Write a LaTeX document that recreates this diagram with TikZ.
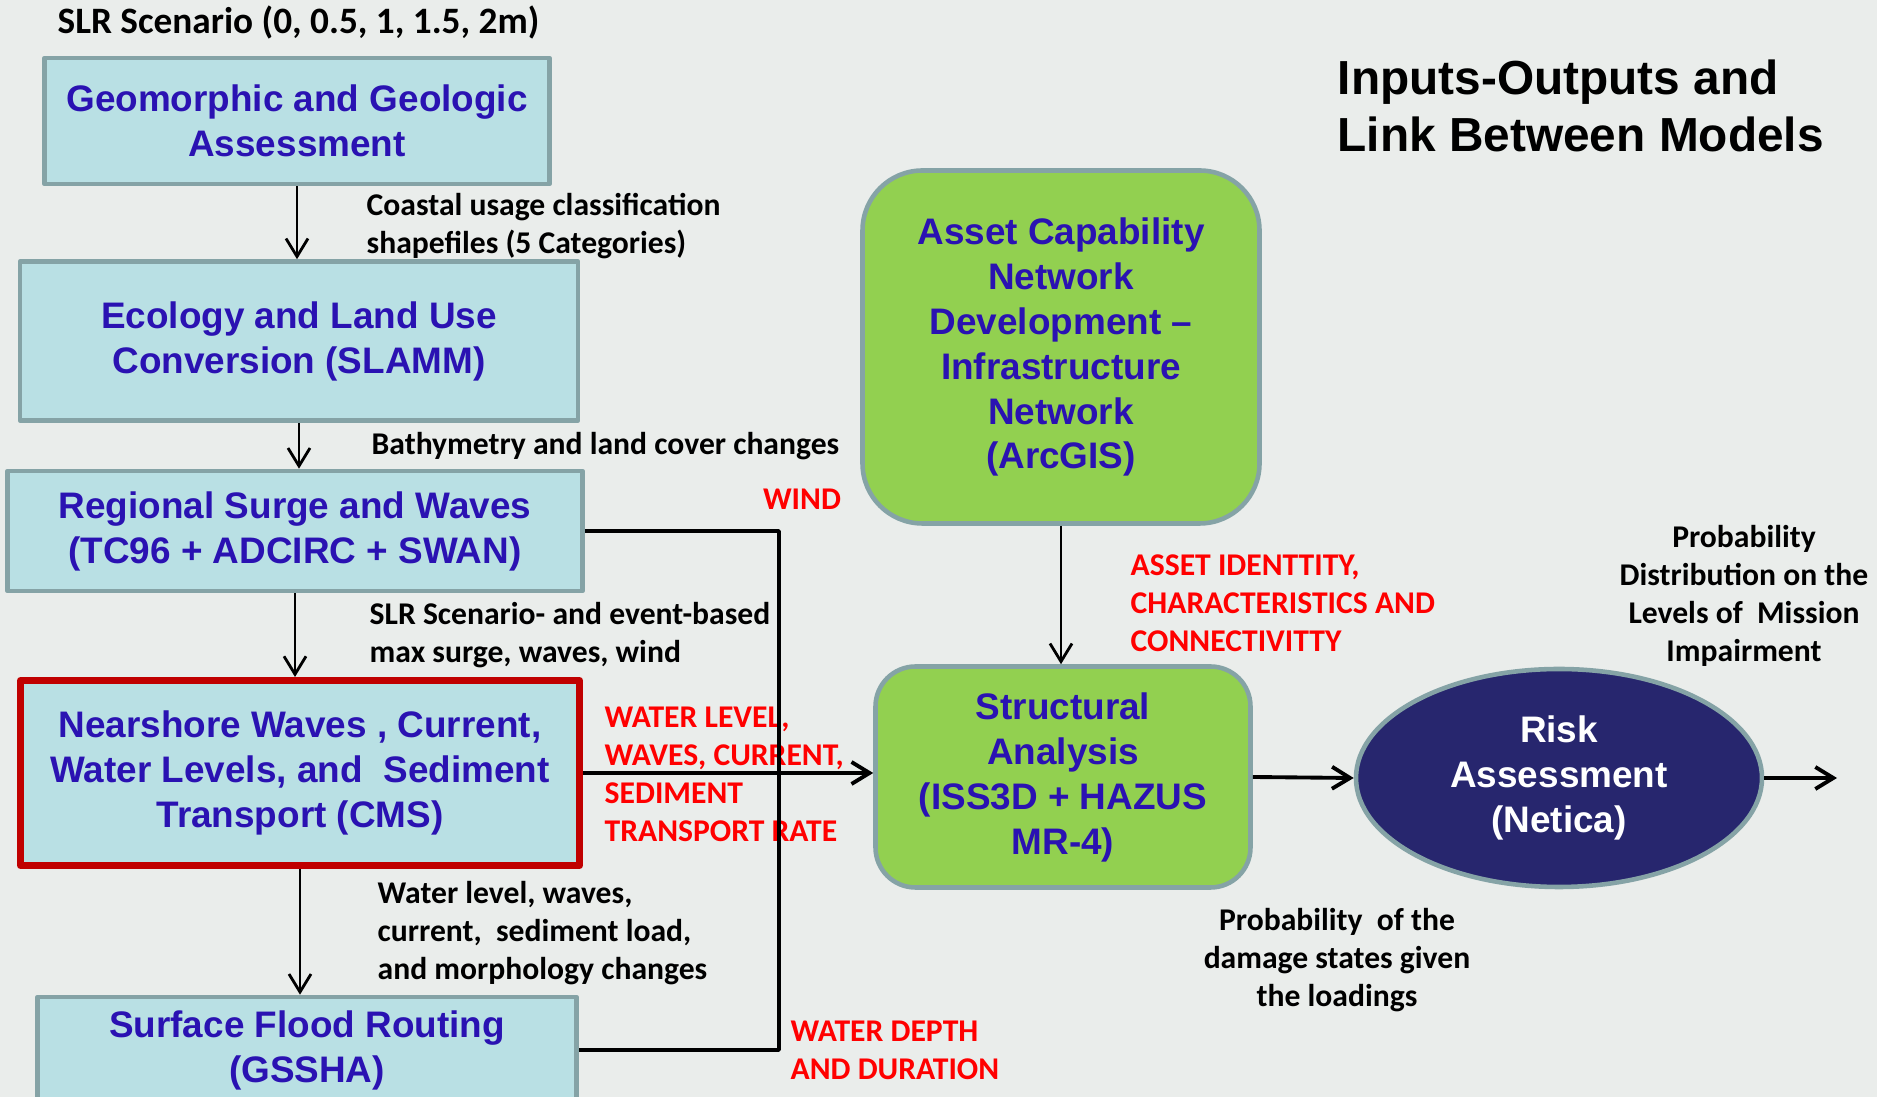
\documentclass[tikz,border=0pt]{standalone}
\usepackage{fontspec}
\setmainfont{Liberation Sans}
\newfontfamily\lblfont{Carlito}
\usetikzlibrary{arrows.meta,shapes.geometric}
\definecolor{bgpanel}{RGB}{234,237,235}
\definecolor{modelfill}{RGB}{185,224,228}
\definecolor{modeledge}{RGB}{133,163,166}
\definecolor{modelink}{RGB}{42,18,178}
\definecolor{assetgreen}{RGB}{146,208,80}
\definecolor{risknavy}{RGB}{39,38,110}
\definecolor{flowred}{RGB}{255,0,0}
\definecolor{focusred}{RGB}{192,0,0}
\begin{document}
\begin{tikzpicture}[x=0.1mm, y=-0.1mm, line join=round, >={Straight Barb[length=1.8mm,width=2.2mm]},
  model/.style={draw=modeledge, line width=1.3pt, fill=modelfill, text=modelink, align=center, inner sep=0pt, font=\bfseries\fontsize{10.5}{12.8}\selectfont},
  asset/.style={model, fill=assetgreen, rounded corners=#1}, asset/.default=4mm,
  note/.style={align=left, inner sep=0pt, font=\lblfont\bfseries\fontsize{9}{10.8}\selectfont},
  flow/.style={note, text=flowred},
  link/.style={->, line width=0.8pt}]
\fill[bgpanel] (0,0) rectangle (1877,1097);
\useasboundingbox (0,0) rectangle (1877,1097);
\clip (0,0) rectangle (1877,1097);
% models
\node[model, minimum width=50.5mm, minimum height=12.6mm] (geo) at (297,121) {Geomorphic and Geologic\\Assessment};
\node[model, minimum width=55.8mm, minimum height=15.9mm] (eco) at (299,341) {Ecology and Land Use\\Conversion (SLAMM)};
\node[model, minimum width=57.5mm, minimum height=12mm] (surge) at (295,531) {Regional Surge and Waves\\(TC96 + ADCIRC + SWAN)};
\node[model, draw=focusred, line width=2pt, minimum width=55.9mm, minimum height=18.5mm] (cms) at (300,773) {Nearshore Waves , Current,\\Water Levels, and\ \ Sediment\\Transport (CMS)};
\node[model, minimum width=53.9mm, minimum height=10.6mm] (gssha) at (307,1050) {Surface Flood Routing\\(GSSHA)};
\node[asset=6mm, minimum width=39.7mm, minimum height=35.3mm] (acn) at (1061,347) {Asset Capability\\Network\\Development –\\Infrastructure\\Network\\(ArcGIS)};
\node[asset, minimum width=37.5mm, minimum height=22.1mm] (struct) at (1063,777) {Structural\\Analysis\\(ISS3D + HAZUS\\MR-4)};
\node[model, ellipse, fill=risknavy, text=white, minimum width=40.6mm, minimum height=21.8mm] (risk) at (1559,778) {Risk\\Assessment\\(Netica)};
% texts
\node[note, anchor=west, font=\lblfont\bfseries\fontsize{10.6}{12}\selectfont] (slr) at (57,23) {SLR Scenario (0, 0.5, 1, 1.5, 2m)};
\node[anchor=west, align=left, inner sep=0pt, font=\bfseries\fontsize{13.6}{16.4}\selectfont] (title) at (1337,106) {Inputs-Outputs and\\Link Between Models};
\node[note, anchor=west] (coastal) at (366,226) {Coastal usage classification\\shapefiles (5 Categories)};
\node[note, anchor=west] (bathy) at (371,446) {Bathymetry and land cover changes};
\node[note, anchor=west] (maxsurge) at (369,635) {SLR Scenario- and event-based\\max surge, waves, wind};
\node[note, anchor=west] (morph) at (377,933) {Water level, waves,\\current,\ \ sediment load,\\and morphology changes};
\node[flow] (wind) at (802,499) {WIND};
\node[flow, anchor=west] (wlevel) at (604,774) {WATER LEVEL,\\WAVES, CURRENT,\\SEDIMENT\\TRANSPORT RATE};
\node[flow, anchor=west] (wdepth) at (790,1050) {WATER DEPTH\\AND DURATION};
\node[flow, anchor=west] (assetid) at (1130,603) {ASSET IDENTTITY,\\CHARACTERISTICS AND\\CONNECTIVITTY};
\node[note, align=center] (pdist) at (1744,596) {Probability\\Distribution on the\\Levels of\ \ Mission\\Impairment};
\node[note, align=center] (pdamage) at (1337,960) {Probability\ \ of the\\damage states given\\the loadings};
% links
\foreach \a/\b in {geo/eco, eco/surge, surge/cms, cms/gssha}
  \draw[link] (\a.south) -- (\a.south |- \b.north);
\coordinate (fb) at (779,0);
\coordinate (out) at (1837,0);
\draw[line width=1pt] (surge.east) -- (surge.east -| fb) -- (gssha.east -| fb) -- (gssha.east);
\draw[link, line width=1.1pt] (cms.east) -- (cms.east -| struct.west);
\draw[link] (acn.south) -- (acn.south |- struct.north);
\draw[link, line width=1.1pt] (struct.east) -- (risk.west);
\draw[link, line width=1.1pt] (risk.east) -- (risk.east -| out);
\end{tikzpicture}
\end{document}
